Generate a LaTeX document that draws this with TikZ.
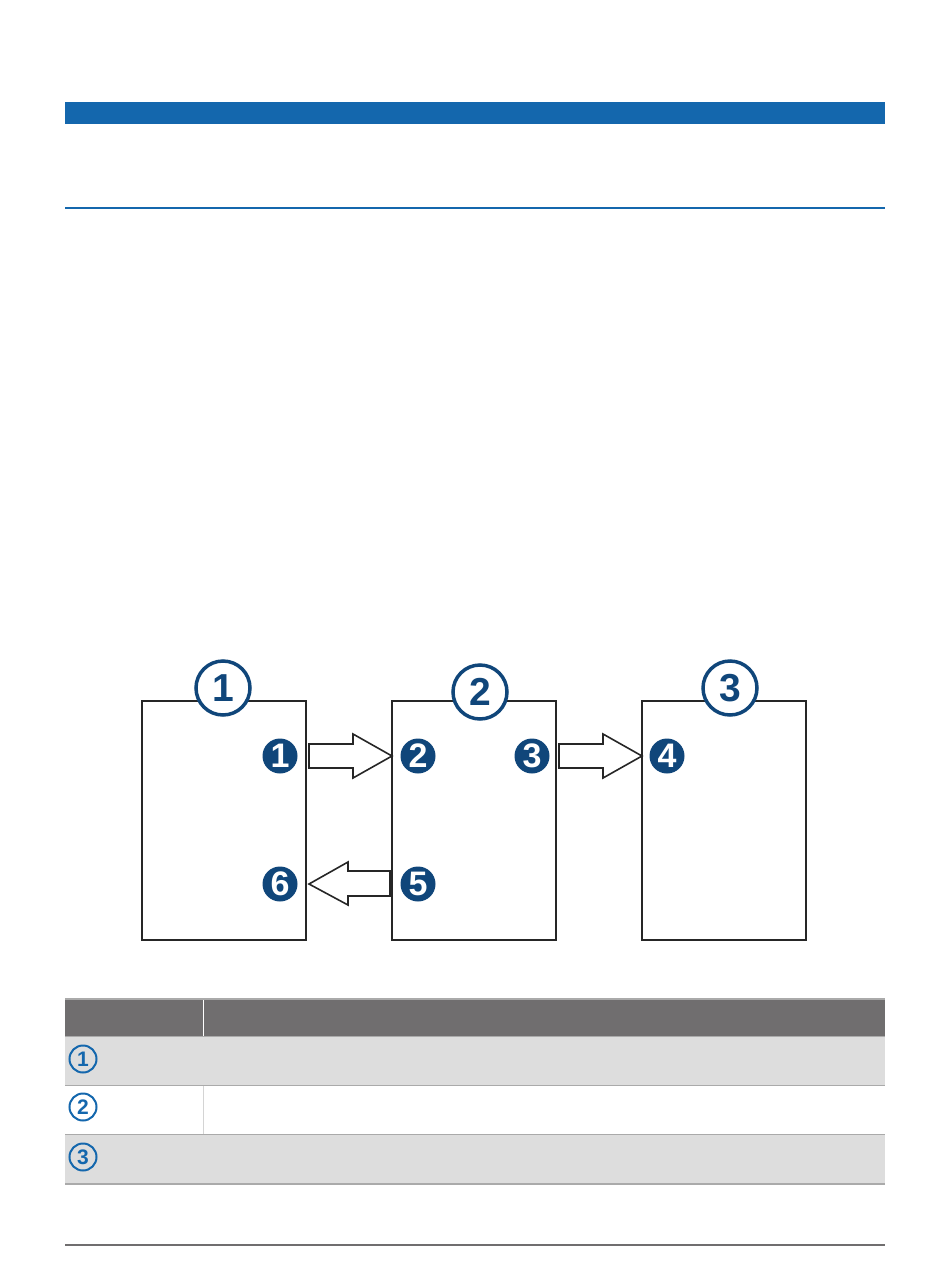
\documentclass[tikz,border=0pt]{standalone}
\usepackage{fontspec}
\setmainfont{Liberation Sans}
\usetikzlibrary{calc,positioning}
\definecolor{barblue}{RGB}{20,103,173}
\definecolor{navy}{RGB}{16,70,122}
\definecolor{headgray}{RGB}{112,110,111}
\definecolor{rowgray}{RGB}{221,221,221}
\definecolor{rulegray}{RGB}{170,170,170}

\begin{document}
\begin{tikzpicture}[x=0.5pt,y=-0.5pt,
    page/.style={draw=black!85,line width=1pt,minimum width=82pt,minimum height=119.5pt,inner sep=0pt,outer sep=0pt},
    bignum/.style={circle,draw=navy,fill=white,line width=1.75pt,minimum size=27pt,inner sep=0pt,text=navy,font=\fontsize{19.5}{19.5}\selectfont\bfseries},
    dot/.style={circle,fill=navy,minimum size=17.5pt,inner sep=0pt,text=white,font=\fontsize{17}{17}\selectfont\bfseries},
    tabnum/.style={circle,draw=barblue,line width=1pt,minimum size=13.5pt,inner sep=0pt,text=barblue,font=\fontsize{10.5}{10.5}\selectfont\bfseries},
    blockarrow/.style={draw=black!85,line width=0.8pt,fill=white,line join=miter}]

    \useasboundingbox (0,0) rectangle (950,1269);

    \fill[barblue] (65,102) rectangle (885,124); % fejléc
    \draw[barblue,line width=0.6pt] (65,208) -- (885,208);

    % oldalak
    \node[page] (p1) at (224,820.5) {};
    \node[page,right=43pt of p1] (p2) {};
    \node[page,right=43pt of p2] (p3) {};

    \node[bignum] (h1) at (223,688) {1};
    \node[bignum] (h2) at (480,692) {2};
    \node[bignum] (h3) at (730,688) {3};

    \node[dot] (d1) at (280,756) {1};
    \node[dot] (d2) at (418,756) {2};
    \node[dot] (d3) at (532,756) {3};
    \node[dot] (d4) at (667,756) {4};
    \node[dot] (d5) at (418,884) {5};
    \node[dot] (d6) at (280,884) {6};

    % nyilak
    \draw[blockarrow] (p2.west |- d2) -- ++(-39,-22) -- ++(0,10) -- ++(-44,0) -- ++(0,24) -- ++(44,0) -- ++(0,10) -- cycle;
    \draw[blockarrow] (p3.west |- d4) -- ++(-39,-22) -- ++(0,10) -- ++(-44,0) -- ++(0,24) -- ++(44,0) -- ++(0,10) -- cycle;
    \draw[blockarrow] ($(p1.east |- d6)+(3,0)$) -- ++(39,-22) -- ++(0,9) -- ++(42,0) -- ++(0,25) -- ++(-42,0) -- ++(0,9) -- cycle;

    % táblázat
    \fill[headgray] (65,999) rectangle (885,1036);
    \fill[rowgray] (65,1037) rectangle (885,1085);
    \fill[rowgray] (65,1135) rectangle (885,1184);
    \draw[white,line width=0.5pt] (203,999) -- (203,1036);
    \draw[rulegray!50,line width=0.5pt] (203,1086) -- (203,1134);
    \foreach \y in {999,1036.5,1085.5,1134.5,1184}
        \draw[rulegray,line width=0.6pt] (65,\y) -- (885,\y);
    \foreach \n/\y in {1/1059,2/1107,3/1157}
        \node[tabnum] (t\n) at (83,\y) {\n};

    \draw[headgray,line width=0.6pt] (65,1245) -- (885,1245);

\end{tikzpicture}
\end{document}
